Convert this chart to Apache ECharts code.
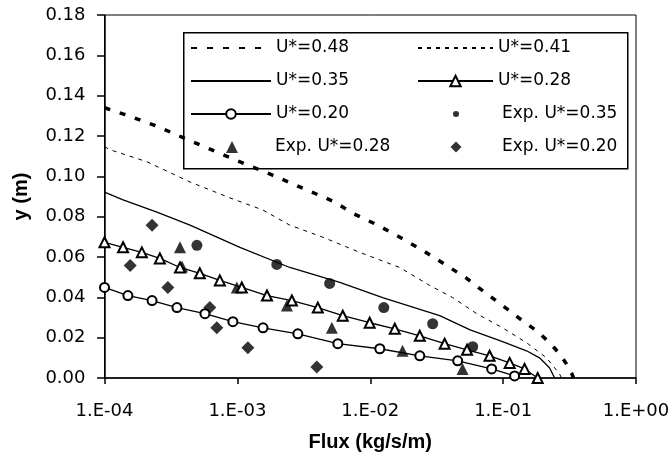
<!DOCTYPE html>
<html>
<head>
<meta charset="utf-8">
<script src="https://cdn.jsdelivr.net/npm/echarts@6/dist/echarts.min.js"></script>
<style>
html, body { margin: 0; padding: 0; background: #fff; }
#chart { width: 668px; height: 455px; }
</style>
</head>
<body>
<div id="chart"></div>
<script>
// model curves, [flux, height]
var u048 = [[1e-4, 0.134], [1.43e-4, 0.1306], [2.52e-4, 0.1247], [3.45e-4, 0.1207], [1e-3, 0.1077],
    [1.82e-3, 0.1007], [5.4e-3, 0.0873], [7.3e-3, 0.0818], [0.01138, 0.0758], [0.01726, 0.0693],
    [0.0248, 0.0633], [0.0376, 0.0558], [0.0532, 0.0494], [0.0666, 0.0444], [0.0991, 0.0359],
    [0.140, 0.0284], [0.179, 0.0234], [0.224, 0.0175], [0.266, 0.012], [0.300, 0.007],
    [0.327, 0.0025], [0.339, 0]];
var u041 = [[1e-4, 0.1147], [1.1e-4, 0.1132], [2.09e-4, 0.1072], [4.4e-4, 0.0972], [8.8e-4, 0.0893],
    [1.556e-3, 0.0833], [2.48e-3, 0.0758], [4.4e-3, 0.0698], [8.34e-3, 0.0623], [0.01667, 0.0548],
    [0.028, 0.0459], [0.0417, 0.0399], [0.0633, 0.0319], [0.099, 0.0249], [0.150, 0.0175],
    [0.212, 0.010], [0.266, 0.002], [0.275, 0]];
var u035 = [[1e-4, 0.0922], [1.38e-4, 0.0883], [2.48e-4, 0.0823], [4.4e-4, 0.0758], [1.045e-3, 0.0648],
    [2.48e-3, 0.0548], [5.9e-3, 0.0474], [0.0124, 0.0399], [0.0333, 0.0309], [0.0565, 0.0239],
    [0.099, 0.018], [0.150, 0.0135], [0.188, 0.010], [0.224, 0.005], [0.244, 0]];
var u028 = [[1e-4, 0.0673], [1.38e-4, 0.0648], [1.91e-4, 0.0623], [2.61e-4, 0.0593], [3.70e-4, 0.0548],
    [5.22e-4, 0.0519], [7.38e-4, 0.0484], [1.08e-3, 0.0449], [1.67e-3, 0.0409], [2.57e-3, 0.0384],
    [4.03e-3, 0.0349], [6.21e-3, 0.0309], [9.9e-3, 0.0274], [0.0153, 0.0244], [0.0236, 0.0209],
    [0.0363, 0.0170], [0.0535, 0.0140], [0.0791, 0.0110], [0.112, 0.0075], [0.145, 0.0045], [0.182, 0]];
var u020 = [[1e-4, 0.0449], [1.50e-4, 0.0409], [2.28e-4, 0.0384], [3.51e-4, 0.0349], [5.70e-4, 0.0319],
    [9.25e-4, 0.0279], [1.56e-3, 0.0249], [2.85e-3, 0.0219], [5.70e-3, 0.0170], [0.0118, 0.0145],
    [0.0236, 0.0110], [0.0455, 0.0085], [0.082, 0.0045], [0.122, 0.001]];

// experiments
var exp035 = [[4.96e-4, 0.0658], [1.98e-3, 0.0563], [4.95e-3, 0.0469], [0.01265, 0.0349], [0.0295, 0.0269], [0.059, 0.0155]];
var exp028 = [[3.7e-4, 0.0648], [3.83e-4, 0.0553], [9.9e-4, 0.0449], [2.36e-3, 0.0359], [5.14e-3, 0.0249], [0.0175, 0.0135], [0.0495, 0.0045]];
var exp020 = [[2.28e-4, 0.0758], [1.56e-4, 0.0558], [3.0e-4, 0.0449], [6.2e-4, 0.0349], [7.0e-4, 0.0249], [1.2e-3, 0.0150], [3.96e-3, 0.0055]];

var FONT = 'DejaVu Sans';
var chart = echarts.init(document.getElementById('chart'));

function expLabel(v) {
    var e = Math.round(Math.log10(v));
    var a = Math.abs(e);
    return '1.E' + (e < 0 ? '-' : '+') + (a < 10 ? '0' : '') + a;
}

// one legend per entry so each can sit where the original puts it
function leg(name, left, rowMid, w, h, padLeft, hideSymbol) {
    var l = {
        data: [name], left: left, top: rowMid - 9, padding: 0,
        itemWidth: w, itemHeight: h, selectedMode: false,
        textStyle: { color: '#000', fontFamily: FONT, fontSize: 17, lineHeight: 18, padding: [0, 0, 0, padLeft || 0] }
    };
    if (hideSymbol) l.itemStyle = { opacity: 0 };
    return l;
}

var option = {
    animation: false,
    grid: { left: 104.5, right: 32, top: 15, bottom: 77, show: true, borderColor: '#000', borderWidth: 1,
            outerBoundsMode: 'none', containLabel: false },
    xAxis: {
        type: 'log', logBase: 10, min: 1e-4, max: 1,
        name: 'Flux (kg/s/m)', nameLocation: 'middle', nameGap: 54, nameMoveOverlap: false,
        nameTextStyle: { color: '#000', fontFamily: 'Liberation Sans', fontWeight: 'bold', fontSize: 20 },
        axisLine: { lineStyle: { color: '#000', width: 1.5 } },
        axisTick: { length: 6, lineStyle: { color: '#000', width: 1.5 } },
        minorTick: { show: false },
        axisLabel: { formatter: expLabel, color: '#000', fontFamily: FONT, fontSize: 18, margin: 24.5 },
        splitLine: { show: false }
    },
    yAxis: {
        type: 'value', min: 0, max: 0.18, interval: 0.02,
        name: 'y (m)', nameLocation: 'middle', nameGap: 73, nameMoveOverlap: false,
        nameTextStyle: { color: '#000', fontFamily: 'Liberation Sans', fontWeight: 'bold', fontSize: 20 },
        axisLine: { show: true, lineStyle: { color: '#000', width: 1.5 } },
        axisTick: { show: true, length: 7.5, lineStyle: { color: '#000', width: 1.5 } },
        axisLabel: { formatter: function (v) { return v.toFixed(2); }, color: '#000', fontFamily: FONT, fontSize: 18, margin: 19 },
        splitLine: { show: false }
    },
    graphic: [{
        type: 'rect', left: 183, top: 32, z: 3,
        shape: { width: 444, height: 136 },
        style: { fill: '#fff', stroke: '#000', lineWidth: 1.5 }
    }],
    legend: [
        leg('U*=0.48', 190, 48, 80, 10, 0, true),
        leg('U*=0.35', 190, 81, 80, 10, 0, true),
        leg('U*=0.20', 190, 114, 80, 12),
        leg('Exp. U*=0.28', 226, 147, 12, 12, 32),
        leg('U*=0.41', 417, 48, 75, 10, 0, true),
        leg('U*=0.28', 417, 81, 75, 13),
        leg('Exp. U*=0.35', 453, 114, 6, 6, 38),
        leg('Exp. U*=0.20', 450.5, 147, 11, 11, 35.5)
    ],
    series: [
        { name: 'U*=0.48', type: 'line', data: u048, symbol: 'none', itemStyle: { color: '#000' },
          lineStyle: { color: '#000', width: 3.5, type: [6, 10] } },
        { name: 'U*=0.41', type: 'line', data: u041, symbol: 'none', itemStyle: { color: '#000' },
          lineStyle: { color: '#000', width: 1, type: [4, 5] } },
        { name: 'U*=0.35', type: 'line', data: u035, symbol: 'none', itemStyle: { color: '#000' },
          lineStyle: { color: '#000', width: 1.3 } },
        { name: 'U*=0.28', type: 'line', data: u028, symbol: 'emptyTriangle', symbolSize: 10,
          itemStyle: { color: '#000', borderWidth: 1.3 }, lineStyle: { color: '#000', width: 1.3 } },
        { name: 'U*=0.20', type: 'line', data: u020, symbol: 'emptyCircle', symbolSize: 9,
          itemStyle: { color: '#000', borderWidth: 1.3 }, lineStyle: { color: '#000', width: 1.3 } },
        { name: 'Exp. U*=0.35', type: 'scatter', data: exp035, symbol: 'circle', symbolSize: 11, itemStyle: { color: '#000' } },
        { name: 'Exp. U*=0.28', type: 'scatter', data: exp028, symbol: 'triangle', symbolSize: 12, itemStyle: { color: '#000' } },
        { name: 'Exp. U*=0.20', type: 'scatter', data: exp020, symbol: 'diamond', symbolSize: 13, itemStyle: { color: '#000' } }
    ]
};
chart.setOption(option);
</script>
</body>
</html>
